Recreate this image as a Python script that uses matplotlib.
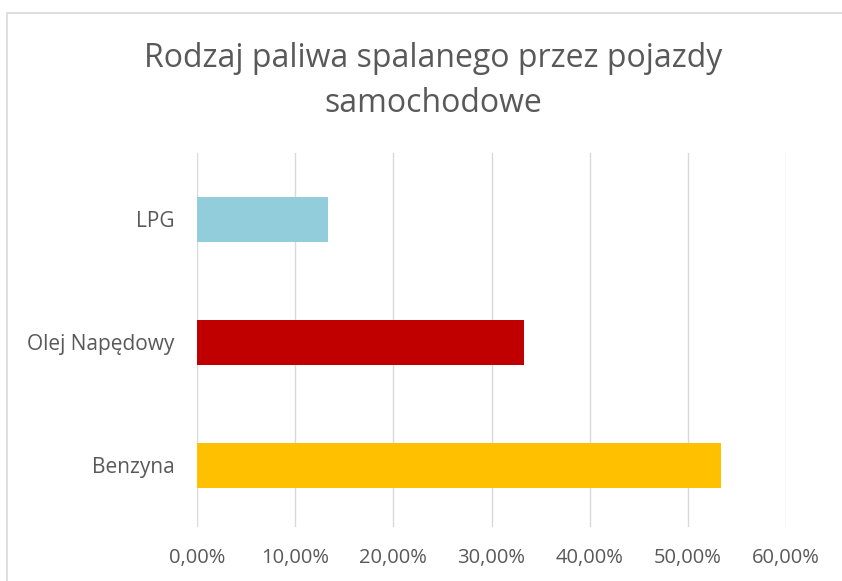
import matplotlib
matplotlib.use('Agg')
import matplotlib.pyplot as plt
import matplotlib.patches as mpatches
from matplotlib.ticker import FuncFormatter

# dane
kategorie = ['Benzyna', 'Olej Napędowy', 'LPG']
udzialy = [0.5333, 0.3333, 0.1333]
kolory = ['#FFC000', '#C00000', '#92CDDC']
ticki = [0.0, 0.1, 0.2, 0.3, 0.4, 0.5, 0.6]

plt.rcParams['font.family'] = ['Open Sans', 'DejaVu Sans']
tekst = '#595959'

fig = plt.figure(figsize=(8.42, 5.81), dpi=100)
fig.patch.set_facecolor('white')

# ramka wykresu (prawa i dolna krawedz poza obrazem)
fig.patches.append(mpatches.Rectangle((7/842, -0.1), 1.2, 1 - 13/581 + 0.1,
                                      transform=fig.transFigure, fill=False,
                                      edgecolor='#D9D9D9', linewidth=1.2))

ax = fig.add_axes([197/842, 1 - 527/581, (786 - 197)/842, (527 - 153)/581])
ax.barh(range(len(kategorie)), udzialy, height=0.36, color=kolory, zorder=3)

ax.set_xlim(0, 0.6)
ax.set_ylim(-0.5, len(kategorie) - 0.46)
ax.set_xticks(ticki)
ax.xaxis.set_major_formatter(FuncFormatter(lambda v, p: f'{v*100:.2f}%'.replace('.', ',')))
ax.set_yticks(range(len(kategorie)))
ax.set_yticklabels(kategorie)
ax.grid(axis='x', color='#D9D9D9', linewidth=1, zorder=0)
for s in ax.spines.values():
    s.set_visible(False)
ax.tick_params(axis='both', length=0, labelcolor=tekst, labelsize=14.5)
ax.tick_params(axis='x', pad=15)
ax.tick_params(axis='y', labelsize=15, pad=16)

fig.text(433/842, 1 - 67/581, 'Rodzaj paliwa spalanego przez pojazdy',
         ha='center', va='baseline', fontsize=23, color=tekst)
fig.text(433/842, 1 - 112/581, 'samochodowe',
         ha='center', va='baseline', fontsize=23, color=tekst)

plt.savefig('out.png', dpi=100)
